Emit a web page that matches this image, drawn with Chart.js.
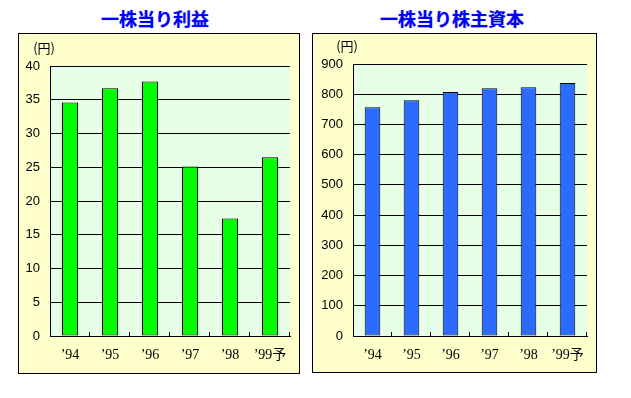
<!DOCTYPE html>
<html>
<head>
<meta charset="utf-8">
<script src="https://cdn.jsdelivr.net/npm/chart.js@4/dist/chart.umd.min.js"></script>
<style>
  body { margin: 0; background: #fff; width: 631px; height: 398px; position: relative; overflow: hidden; }
  .title { position: absolute; top: 5px; font: bold 18px "Noto Sans CJK JP", sans-serif; color: #0000ff;
           text-shadow: 0 0 1px #8080ff; white-space: nowrap; transform: translateX(-50%); }
  .panel { position: absolute; box-sizing: border-box; border: 1px solid #000; background: #ffffcc; }
  .panel canvas { display: block; }
</style>
</head>
<body>
<div class="title" style="left:155px">一株当り利益</div>
<div class="title" style="left:452px">一株当り株主資本</div>
<div class="panel" style="left:18px; top:33px; width:282px; height:341px;">
  <canvas id="eps" width="280" height="339"></canvas>
</div>
<div class="panel" style="left:312px; top:33px; width:285px; height:340px;">
  <canvas id="bps" width="283" height="338"></canvas>
</div>
<script>
const years = ['’94', '’95', '’96', '’97', '’98', '’99予'];
const epsValues = [34.6, 36.7, 37.7, 25.1, 17.4, 26.5];
const bpsValues = [757, 780, 807, 820, 823, 837];

const yFont = { family: "'Liberation Sans', 'Noto Sans CJK JP', sans-serif", size: 13 };
const xFont = { family: "'Liberation Serif', 'Noto Sans CJK JP', serif", size: 14 };

// plot background, unit label, inward ticks on the category axis
const decor = {
    id: 'decor',
    beforeDraw(chart) {
        const a = chart.chartArea;
        const ctx = chart.ctx;
        ctx.save();
        ctx.fillStyle = '#e6ffe6';
        ctx.fillRect(a.left, a.top, a.right - a.left, a.bottom - a.top);
        ctx.restore();
    },
    afterDraw(chart) {
        const a = chart.chartArea;
        const ctx = chart.ctx;
        const x = chart.scales.x;
        ctx.save();
        ctx.strokeStyle = '#000';
        ctx.lineWidth = 1;
        for (let i = 0; i < years.length; i++) {
            const px = Math.round(x.getPixelForValue(i) + x.width / years.length / 2) - 0.5;
            ctx.beginPath();
            ctx.moveTo(px, a.bottom);
            ctx.lineTo(px, a.bottom - 4);
            ctx.stroke();
        }
        ctx.fillStyle = '#000';
        ctx.font = "13px 'Noto Sans CJK JP', sans-serif";
        ctx.textAlign = 'right';
        ctx.textBaseline = 'middle';
        ctx.fillText('(円)', a.left + 5, a.top - 18);
        ctx.restore();
    }
};

function makeChart(id, values, color, max, step, pad, yWidth, xHeight) {
    return new Chart(document.getElementById(id), {
        type: 'bar',
        data: {
            labels: years,
            datasets: [{
                data: values,
                backgroundColor: color,
                borderColor: '#000',
                borderWidth: 1,
                borderSkipped: false,
                barPercentage: 0.4,
                categoryPercentage: 1
            }]
        },
        options: {
            responsive: false,
            animation: false,
            layout: { padding: pad },
            plugins: { legend: { display: false }, tooltip: { enabled: false } },
            scales: {
                x: {
                    grid: { display: false, drawTicks: false },
                    border: { display: true, color: '#000', width: 1 },
                    ticks: { color: '#000', font: xFont, padding: 11, maxRotation: 0 },
                    afterFit(s) { s.height = xHeight; }
                },
                y: {
                    min: 0,
                    max: max,
                    grid: { color: '#000', lineWidth: 1, drawTicks: false },
                    border: { display: true, color: '#000', width: 1 },
                    ticks: { stepSize: step, color: '#000', font: yFont, padding: 10 },
                    afterFit(s) { s.width = yWidth; }
                }
            }
        },
        plugins: [decor]
    });
}

makeChart('eps', epsValues, '#00ff00', 40, 5, { top: 32, right: 9, left: 0, bottom: 0 }, 31, 37);
makeChart('bps', bpsValues, '#2b6bff', 900, 100, { top: 30, right: 9, left: 0, bottom: 0 }, 40, 36);
</script>
</body>
</html>
